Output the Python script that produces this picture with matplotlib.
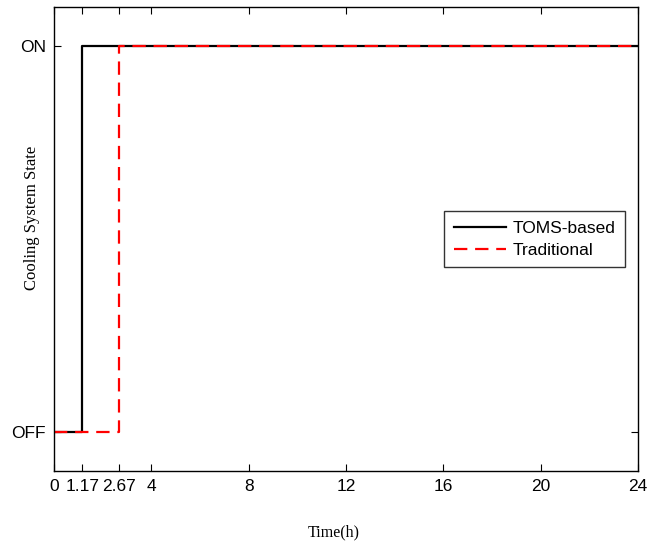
import matplotlib
matplotlib.use('Agg')
import matplotlib.pyplot as plt

# Cooling system on/off state over a day
toms_t = [0, 1.17, 1.17, 24]
toms_state = [0, 0, 1, 1]
trad_t = [0, 2.67, 2.67, 24]
trad_state = [0, 0, 1, 1]

x_ticks = [0, 1.17, 2.67, 4, 8, 12, 16, 20, 24]
x_labels = ['0', '1.17', '2.67', '4', '8', '12', '16', '20', '24']
y_ticks = [0, 1]
y_labels = ['OFF', 'ON']

plt.rcParams['font.family'] = ['Liberation Sans', 'DejaVu Sans']

fig = plt.figure(figsize=(6.63, 5.44), dpi=100)
ax = fig.add_axes([54 / 663, 73 / 544, 584 / 663, 464 / 544])

ax.plot(toms_t, toms_state, color='black', linewidth=1.6, label='TOMS-based')
ax.plot(trad_t, trad_state, color='red', linewidth=1.6, dashes=(6, 3.5), label='Traditional')

ax.set_xlim(0, 24)
ax.set_ylim(-0.1, 1.1)
ax.set_xticks(x_ticks)
ax.set_xticklabels(x_labels)
ax.set_yticks(y_ticks)
ax.set_yticklabels(y_labels)
ax.tick_params(direction='in', top=True, right=True, length=5, labelsize=12.5, pad=6)
for s in ax.spines.values():
    s.set_linewidth(1.0)

# axis labels sit at fixed spots like the original
ax.set_xlabel('Time(h)', family='Liberation Serif', fontsize=11.5, va='center')
ax.xaxis.set_label_coords((334 - 54) / 584, (471 - 532) / 464)
ax.set_ylabel('Cooling System State', family='Liberation Serif', fontsize=12, va='center')
ax.yaxis.set_label_coords((32 - 54) / 584, (471 - 218) / 464)

leg = ax.legend(loc='upper left', bbox_to_anchor=(390 / 584, (471 - 211) / 464), fontsize=12.5,
                frameon=True, fancybox=False, edgecolor='black', handlelength=3.0,
                borderpad=0.55, labelspacing=0.4, handletextpad=0.4, borderaxespad=0)
leg.get_frame().set_linewidth(1.0)

fig.savefig('out.png', dpi=100)
